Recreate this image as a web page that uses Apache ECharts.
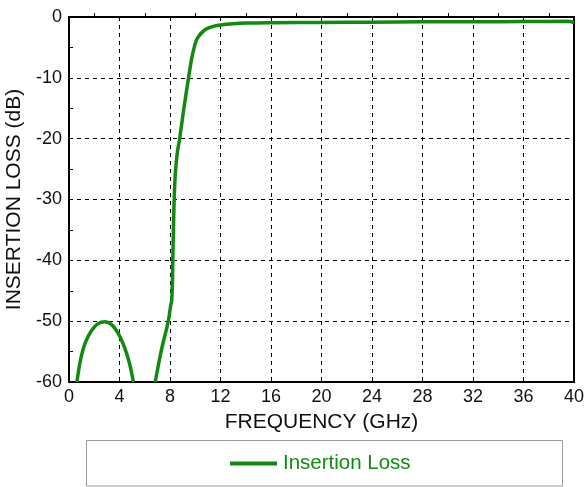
<!DOCTYPE html>
<html>
<head>
<meta charset="utf-8">
<script src="https://cdn.jsdelivr.net/npm/echarts@6/dist/echarts.min.js"></script>
<style>html,body{margin:0;padding:0;background:#fff;}#c{width:584px;height:487px;}</style>
</head>
<body>
<div id="c"></div>
<script>
var seriesName = 'Insertion Loss';
var freqGHz = [0.63,0.9,1.3,1.8,2.3,2.85,3.4,3.9,4.4,4.8,5.1,null,
  6.83,7.1,7.4,7.7,7.88,8.05,8.14,8.2,8.22,8.27,8.33,8.4,8.46,8.6,8.75,9.1,9.47,9.7,9.87,10.05,10.26,10.6,10.93,11.5,12,13,14,16,20,24,28,32,36,39.5,40];
var lossDb = [-60,-56.5,-53.5,-51.5,-50.4,-50.1,-50.6,-52,-54.3,-57,-60,null,
  -60,-57,-54,-51.5,-49.8,-47.5,-46.5,-43,-40,-35,-30,-26.5,-24.7,-22,-20.2,-15,-10,-7,-5.4,-4,-3.2,-2.4,-1.9,-1.5,-1.3,-1.1,-1.0,-0.95,-0.9,-0.85,-0.8,-0.8,-0.75,-0.7,-0.9];
var xTicks = [0,4,8,12,16,20,24,28,32,36,40];
var yTicks = [-60,-50,-40,-30,-20,-10,0];

var data = freqGHz.map(function(f,i){ return f===null ? [null,null] : [f, lossDb[i]]; });
var green = '#128a12';
var font = 'Liberation Sans, Arial, sans-serif';
var chart = echarts.init(document.getElementById('c'));
chart.setOption({
  animation:false,
  backgroundColor:'#fff',
  grid:{left:69,right:10,top:17,bottom:105,containLabel:false,outerBoundsMode:'none',show:true,borderColor:'#000',borderWidth:2,backgroundColor:'transparent'},
  xAxis:{type:'value',min:xTicks[0],max:xTicks[xTicks.length-1],interval:4,
    name:'FREQUENCY (GHz)',nameLocation:'middle',nameGap:30,
    nameTextStyle:{fontFamily:font,fontSize:21,color:'#111'},
    axisLine:{show:true,lineStyle:{color:'#000',width:2}},
    axisTick:{show:false,inside:true},
    minorTick:{show:true,splitNumber:2,length:4,lineStyle:{color:'#000',width:1}},
    axisLabel:{fontFamily:font,fontSize:18,color:'#111',margin:6},
    splitLine:{show:true,lineStyle:{color:'#000',type:[4,4],width:1}}
  },
  yAxis:{type:'value',min:yTicks[0],max:yTicks[yTicks.length-1],interval:10,
    name:'INSERTION LOSS (dB)',nameLocation:'middle',nameGap:40,
    nameTextStyle:{fontFamily:font,fontSize:21,color:'#111'},
    axisLine:{show:true,lineStyle:{color:'#000',width:2}},
    axisTick:{show:false,inside:true},
    minorTick:{show:true,splitNumber:2,length:4,lineStyle:{color:'#000',width:1}},
    axisLabel:{fontFamily:font,fontSize:18,color:'#111',margin:7},
    splitLine:{show:true,lineStyle:{color:'#000',type:[4,4],width:1}}
  },
  legend:{show:true,left:230,top:453,padding:0,itemWidth:47,itemHeight:4,itemGap:10,
    textStyle:{fontFamily:font,fontSize:20.5,color:green,padding:[0,0,0,1]},
    data:[{name:seriesName,icon:'rect'}]},
  graphic:[{type:'rect',shape:{x:86.5,y:440.5,width:476,height:45.5},style:{fill:null,stroke:'#9a9a9a',lineWidth:1},silent:true}],
  series:[{name:seriesName,type:'line',data:data,showSymbol:false,symbol:'none',smooth:0.3,connectNulls:false,
    lineStyle:{color:green,width:3.5},itemStyle:{color:green}}]
});
</script>
</body>
</html>
